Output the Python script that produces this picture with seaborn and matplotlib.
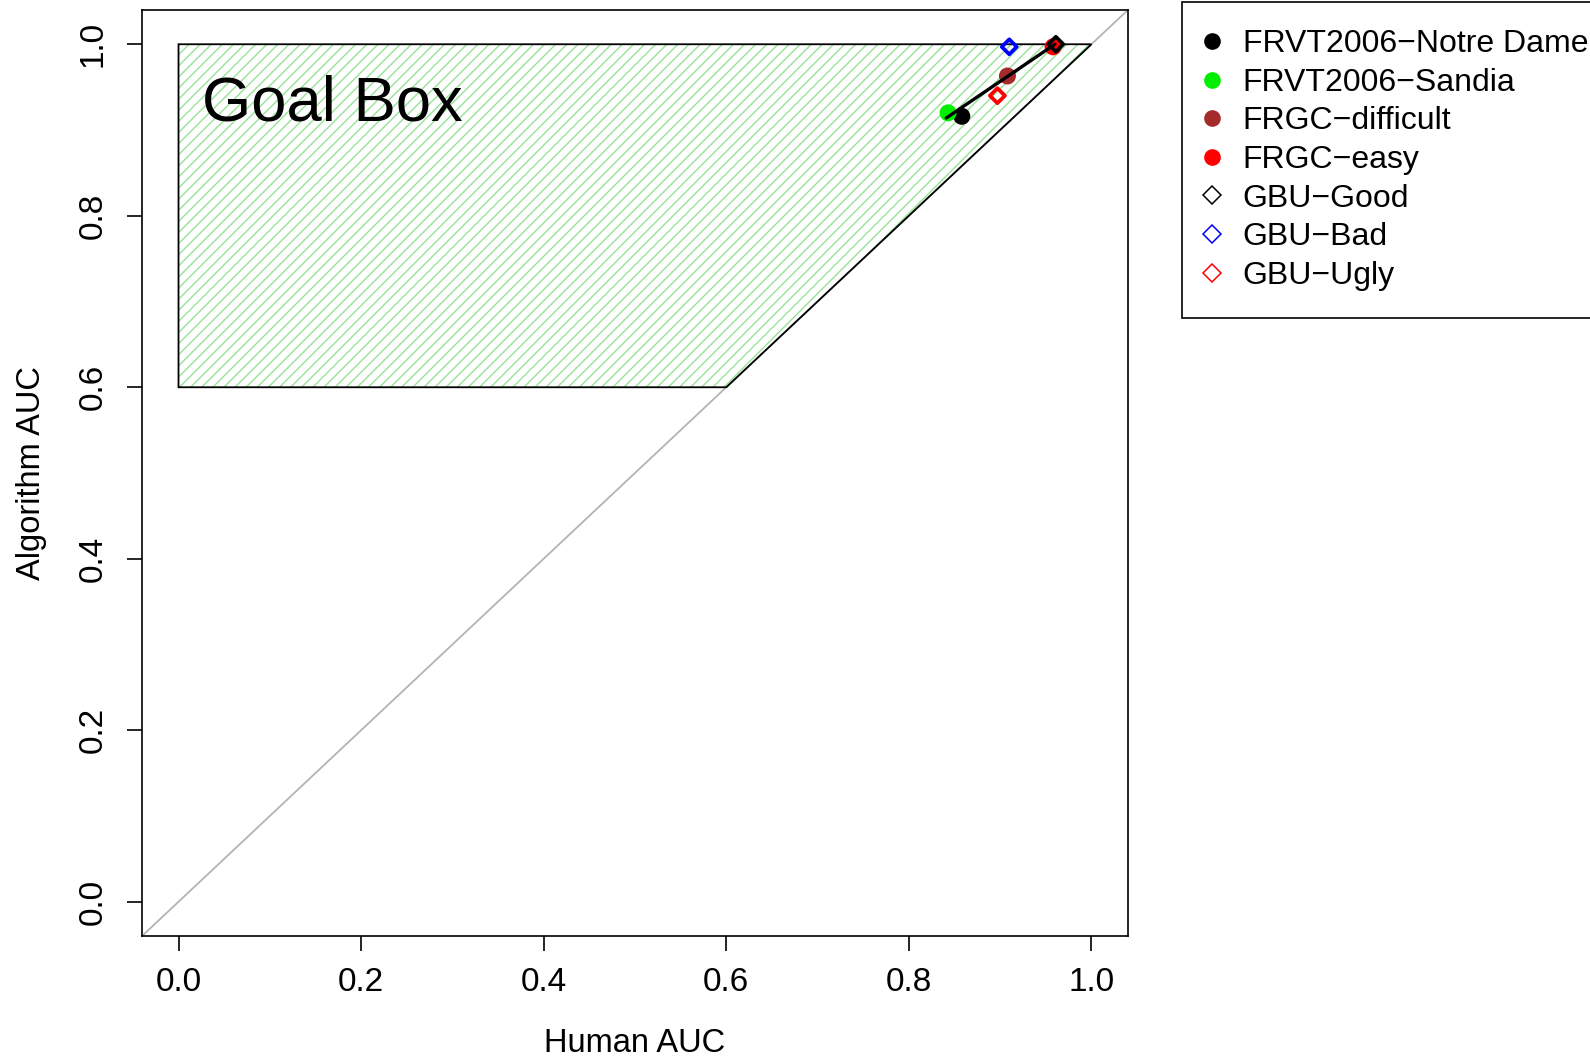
import matplotlib
matplotlib.use("Agg")
import matplotlib.pyplot as plt
import seaborn as sns
import pandas as pd
from matplotlib.lines import Line2D

# data
names = ["FRVT2006−Notre Dame", "FRVT2006−Sandia", "FRGC−difficult", "FRGC−easy",
         "GBU−Good", "GBU−Bad", "GBU−Ugly"]
human_auc = [0.858, 0.843, 0.908, 0.958, 0.961, 0.910, 0.897]
algo_auc = [0.916, 0.920, 0.963, 0.997, 1.000, 0.997, 0.940]
kinds = ["circle", "circle", "circle", "circle", "diamond", "diamond", "diamond"]

goal_x = [0.0, 0.0, 1.0, 0.6]
goal_y = [0.6, 1.0, 1.0, 0.6]

fit_x = [0.841, 0.960]
fit_y = [0.914, 1.000]

ticks = [0.0, 0.2, 0.4, 0.6, 0.8, 1.0]

colors = {"FRVT2006−Notre Dame": "black", "FRVT2006−Sandia": "#00ee00",
          "FRGC−difficult": "#a52a2a", "FRGC−easy": "#ff0000",
          "GBU−Good": "black", "GBU−Bad": "#0000ff", "GBU−Ugly": "#ff0000"}

df = pd.DataFrame({"name": names, "human": human_auc, "algo": algo_auc, "kind": kinds})

sns.set_style("white")
plt.rcParams["font.family"] = ["Liberation Sans", "DejaVu Sans"]
plt.rcParams["text.color"] = "black"
plt.rcParams["axes.labelcolor"] = "black"
plt.rcParams["xtick.color"] = "black"
plt.rcParams["ytick.color"] = "black"
plt.rcParams["hatch.linewidth"] = 1.0

fig = plt.figure(figsize=(15.9, 10.59), dpi=100)
ax = fig.add_axes([0.0893, 0.1161, 0.7094 - 0.0893, 0.9906 - 0.1161])

# diagonal
ax.axline((0, 0), slope=1, color="#b4b4b4", lw=1.3, zorder=1)

# goal box: hatch then outline
ax.fill(goal_x, goal_y, facecolor="none", edgecolor="#98e298", lw=0, hatch="///", zorder=2)
ax.fill(goal_x, goal_y, facecolor="none", edgecolor="black", lw=1.3, zorder=3)
ax.text(0.026, 0.9116, "Goal Box", fontsize=45.6, ha="left", va="baseline", zorder=4)

circ = df[df.kind == "circle"]
for _, r in circ.iterrows():
    sns.scatterplot(x=[r.human], y=[r.algo], ax=ax, color=colors[r["name"]],
                    marker="o", s=150, edgecolor="none", linewidth=0, zorder=5)

sns.lineplot(x=fit_x, y=fit_y, ax=ax, color="black", lw=2.4, zorder=6)

diam = df[df.kind == "diamond"]
for _, r in diam.iterrows():
    sns.scatterplot(x=[r.human], y=[r.algo], ax=ax, color=colors[r["name"]],
                    marker="D", s=58, facecolor="none", edgecolor=colors[r["name"]],
                    linewidth=2.7, zorder=7)

ax.set_xlim(-0.04, 1.04)
ax.set_ylim(-0.04, 1.04)
ax.set_xticks(ticks)
ax.set_yticks(ticks)
ax.set_xticklabels([f"{t:.1f}" for t in ticks], fontsize=24)
ax.set_yticklabels([f"{t:.1f}" for t in ticks], fontsize=24, rotation=90, va="center")
ax.tick_params(axis="both", direction="out", length=11, width=1.2, color="black",
               bottom=True, left=True)
ax.tick_params(axis="x", pad=11)
ax.tick_params(axis="y", pad=13)
for s in ax.spines.values():
    s.set_color("black")
    s.set_linewidth(1.2)

ax.set_xlabel("Human AUC", fontsize=23.5, labelpad=22)
ax.set_ylabel("Algorithm AUC", fontsize=23.5, labelpad=22)

handles = []
for n, k in zip(names, kinds):
    if k == "circle":
        h = Line2D([], [], ls="none", marker="o", markersize=12,
                   markerfacecolor=colors[n], markeredgecolor=colors[n], markeredgewidth=0)
    else:
        h = Line2D([], [], ls="none", marker="D", markersize=9.5,
                   markerfacecolor="none", markeredgecolor=colors[n], markeredgewidth=1.1)
    handles.append(h)

leg = fig.legend(handles=handles, labels=names, loc="upper left",
                 bbox_to_anchor=(1182 / 1590, 1 - 2 / 1059), borderaxespad=0,
                 fontsize=23, frameon=True, fancybox=False, framealpha=1,
                 edgecolor="black", borderpad=0.85, labelspacing=0.27,
                 handlelength=0.2, handletextpad=0.85)
leg.get_frame().set_linewidth(1.2)

fig.savefig("out.png", dpi=100)
